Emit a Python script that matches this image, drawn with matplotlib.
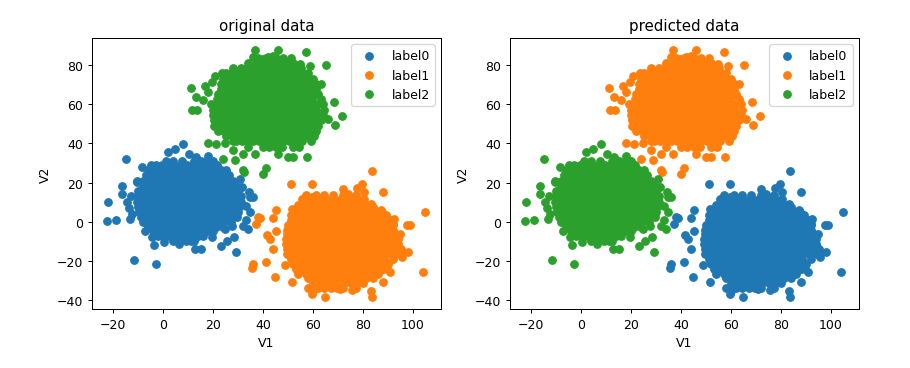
import numpy as np
import matplotlib
matplotlib.use("Agg")
import matplotlib.pyplot as plt

# points, the dense middle is written row by row as (y, [x...])
blob_a_rows = [
    (31, [1, 4, 7.5, 12.5, 15, 17.5, 20]),
    (29, [-5, -3, -0.5, 2, 4.5, 7, 9.5, 12, 14, 16.5, 19, 21.5]),
    (26.5, [-6, -3.5, -1, 1.5, 3.5, 6, 8.5, 11, 13.5, 15.5, 18, 20.5, 23, 25]),
    (24, [-7, -4.5, -2.5, 0, 2.5, 5, 7.5, 9.5, 12, 14.5, 17, 19.5, 21.5, 24, 26.5]),
    (21, [-8, -5.5, -3, -1, 1.5, 4, 6.5, 8.5, 11, 13.5, 16, 18.5, 20.5, 23, 25.5, 28]),
    (18, [-8, -6, -3.5, -1.5, 0.5, 3, 5.5, 8, 10, 12.5, 15, 17.5, 20, 22, 24.5, 27, 29]),
    (15.5, [-10, -7.5, -5, -3, -0.5, 2, 4.5, 7, 9, 11.5, 14, 16.5, 19, 21, 23.5, 26, 28.5, 30]),
    (13, [-10, -8.5, -6, -4, -1.5, 1, 3.5, 6, 8, 10.5, 13, 15.5, 18, 20, 22.5, 25, 27.5, 29.5, 31]),
    (10, [-10.5, -7.5, -5, -2.5, -0.5, 2, 4.5, 7, 9, 11.5, 14, 16.5, 19, 21, 23.5, 26, 28.5, 31]),
    (7.5, [-10, -8.5, -6, -3.5, -1.5, 1, 3.5, 6, 8, 10.5, 13, 15.5, 18, 20, 22.5, 25, 27.5, 30.5]),
    (5, [-9.5, -7, -4.5, -2.5, 0, 2.5, 5, 7, 9.5, 12, 14.5, 17, 19, 21.5, 24, 26.5, 28.5, 30]),
    (2.5, [-9, -7.5, -5.5, -3, -1, 1.5, 4, 6, 8.5, 11, 13.5, 16, 18, 20.5, 23, 25.5, 27.5, 29.5]),
    (0, [-8, -6, -4, -2, 0.5, 3, 5, 7.5, 10, 12.5, 15, 17, 19.5, 22, 24.5, 27]),
    (-2.5, [-6, -3, -0.5, 2, 4, 6.5, 9, 11.5, 14, 16, 18.5, 21, 24]),
    (-5, [-4, -1.5, 1, 3, 5.5, 8, 10.5, 13, 15, 17.5, 20]),
    (-7.5, [-2, 0, 2.5, 5, 7.5, 9.5, 12, 14, 16]),
    (-10, [4, 6.5, 9, 11, 12.5]),
]
blob_a_extra = [
    (-14.8, 32), (8.1, 39.7), (4.8, 37.1), (2.1, 35.8), (10.5, 34.6), (13.2, 32.9),
    (18.1, 33.7), (-8.5, 27.8), (-10.5, 20.9), (-21.9, 9.9), (-22.3, 0.2), (-18.8, 0.9),
    (-11.5, -19.6), (-2.9, -21.6), (29.1, -15.6), (23.1, -12.6), (25.5, -9.7), (28.4, -8),
    (12.8, -13.9), (15.1, -13.9), (6.5, -11.4), (-3.5, -11.9), (0.4, -10.2), (19.5, -7.7),
    (24.8, -3.7), (27.5, -2), (34.1, -3.7), (32.1, -2), (34.8, 5), (34.8, 12.6), (36, 12.6),
    (34.5, 15), (30.8, 21.8), (31.5, 17.7), (-16.5, 18.4), (-16.5, 14.1), (-10.3, 20.4),
    (-13.2, 1.4), (-12.5, 3.9), (-7.2, -4.6), (-4.5, -8), (-14.5, 10), (-13, 13), (-13.5, 7),
    (33, 8), (33, 1),
]

blob_b_rows = [
    (13.5, [57, 61, 64.5, 68, 72, 77]),
    (11, [56, 58, 60.5, 63, 65.5, 68, 70.5, 73, 75.5, 78, 80]),
    (8.5, [54, 56.5, 59, 61.5, 64, 66.5, 69, 71.5, 74, 76.5, 79, 81, 83]),
    (6, [52, 54.5, 57, 59.5, 62, 64.5, 67, 69.5, 72, 74.5, 77, 79.5, 82, 84.5, 87]),
    (3.5, [51, 53.5, 56, 58.5, 61, 63.5, 66, 68.5, 71, 73.5, 76, 78.5, 81, 83.5, 86, 89]),
    (1, [51, 52.5, 55, 57.5, 60, 62.5, 65, 67.5, 70, 72.5, 75, 77.5, 80, 82.5, 85, 87.5, 89.5, 91]),
    (-1.5, [50, 53, 55.5, 58, 60.5, 63, 65.5, 68, 70.5, 73, 75.5, 78, 80.5, 83, 85.5, 88, 90, 92]),
    (-4, [49.5, 52, 54.5, 57, 59.5, 62, 64.5, 67, 69.5, 72, 74.5, 77, 79.5, 82, 84.5, 87, 89.5, 92]),
    (-6.5, [49.5, 51, 53.5, 56, 58.5, 61, 63.5, 66, 68.5, 71, 73.5, 76, 78.5, 81, 83.5, 86, 88.5, 91, 93]),
    (-9, [49, 52, 54.5, 57, 59.5, 62, 64.5, 67, 69.5, 72, 74.5, 77, 79.5, 82, 84.5, 87, 89.5, 92, 94]),
    (-11.5, [49, 51, 53.5, 56, 58.5, 61, 63.5, 66, 68.5, 71, 73.5, 76, 78.5, 81, 83.5, 86, 88.5, 91, 94]),
    (-14, [49.5, 52, 54.5, 57, 59.5, 62, 64.5, 67, 69.5, 72, 74.5, 77, 79.5, 82, 84.5, 87, 89.5, 92, 95]),
    (-16.5, [49.5, 51, 53.5, 56, 58.5, 61, 63.5, 66, 68.5, 71, 73.5, 76, 78.5, 81, 83.5, 86, 88.5, 91, 94.5]),
    (-19, [51, 53.5, 56, 58.5, 61, 63.5, 66, 68.5, 71, 73.5, 76, 78.5, 81, 83.5, 86, 88.5, 92]),
    (-21.5, [52, 55, 57.5, 60, 62.5, 65, 67.5, 70, 72.5, 75, 77.5, 80, 82.5, 85, 87.5, 90]),
    (-24, [53, 56, 58.5, 61, 63.5, 66, 68.5, 71, 73.5, 76, 78.5, 81, 83.5, 86, 88]),
    (-26.5, [54, 57, 60, 62.5, 65, 67.5, 70, 72.5, 75, 77.5, 80, 82.5, 84.5, 86]),
    (-29, [58, 61, 63.5, 66, 68.5, 71, 73.5, 76, 78.5, 81, 84]),
    (-31.5, [60, 62.5, 65, 67.5, 70, 72.5, 75, 77.5, 80]),
    (-34, [58, 62, 64.5, 67, 69.5, 72, 77]),
]
blob_b_extra = [
    (51.1, 19.3), (59.7, 19.3), (83.7, 26), (72.1, 16.7), (74.1, 14.1), (75.1, 11.9),
    (77.5, 17.2), (79.7, 19.3), (80.5, 15), (88.1, 15), (104.8, 4.8), (104.1, -25.8),
    (97.5, -1.7), (98.8, -1.7), (92.5, 1.4), (92.1, -1.2), (94.8, -6.3), (96, -15.5),
    (97.9, -15.6), (90.8, -25.8), (89.5, -24), (88.1, -31), (83.2, -35.2), (83.7, -38.6),
    (64.8, -38.6), (59.5, -36.9), (60, -35.5), (75.5, -34.7), (70.8, -34.4), (51.7, -30.6),
    (44.7, -28.4), (41.2, -20.7), (48.8, -22.1), (43.9, -13.9), (42.8, -8.8), (41.5, -6.6),
    (45.2, -4.8), (44.1, 1.9), (45.1, 6), (38.8, 1.9), (55.5, 11.6), (56.1, 9), (59.5, 12.8),
    (51.5, 6.5), (38.1, 2.2), (37.1, -1.2), (36.1, -21.6), (35.5, -23.8), (83.2, 9), (84, 7.5),
    (87.5, 5), (80.4, 11.6), (94, -12), (95.5, -18),
]

blob_c_rows = [
    (83.5, [38, 41, 45, 48, 51]),
    (81, [34, 37, 39.5, 42, 44.5, 47, 49.5, 52]),
    (78.5, [28, 31, 33.5, 36, 38.5, 41, 43, 45.5, 48, 50.5, 53, 55]),
    (76, [25, 27, 29.5, 32, 34.5, 37, 39.5, 42, 44, 46.5, 49, 51.5, 54, 56, 58]),
    (73, [24, 26.5, 29, 31, 33.5, 36, 38.5, 41, 43, 45.5, 48, 50.5, 53, 55, 57.5, 60]),
    (70.5, [23, 25, 27.5, 30, 32.5, 35, 37, 39.5, 42, 44.5, 47, 49, 51.5, 54, 56.5, 59, 61]),
    (68, [23, 26, 28.5, 31, 33, 35.5, 38, 40.5, 43, 45, 47.5, 50, 52.5, 55, 57, 59.5, 61]),
    (65, [22, 24.5, 27, 29.5, 32, 34, 36.5, 39, 41.5, 44, 46, 48.5, 51, 53.5, 56, 58, 60.5, 62]),
    (62.5, [21.5, 23.5, 26, 28.5, 31, 33, 35.5, 38, 40.5, 43, 45, 47.5, 50, 52.5, 55, 57, 59.5, 63]),
    (60, [21, 24, 26.5, 29, 31.5, 34, 36, 38.5, 41, 43.5, 46, 48, 50.5, 53, 55.5, 58, 60, 62, 64]),
    (57, [20, 22.5, 25, 27.5, 30, 32, 34.5, 37, 39.5, 42, 44, 46.5, 49, 51.5, 54, 56, 58.5, 61, 64.5]),
    (54.5, [20, 23, 25.5, 28, 30.5, 33, 35, 37.5, 40, 42.5, 45, 47, 49.5, 52, 54.5, 57, 59, 61.5, 64]),
    (52, [20.5, 22, 24.5, 27, 29.5, 32, 34, 36.5, 39, 41.5, 44, 46, 48.5, 51, 53.5, 56, 58, 60.5, 63]),
    (49, [20.5, 23, 25.5, 28, 30.5, 33, 35, 37.5, 40, 42.5, 45, 47, 49.5, 52, 54.5, 57, 59, 62]),
    (46.5, [22, 24.5, 27, 29.5, 32, 34, 36.5, 39, 41.5, 44, 46, 48.5, 51, 53.5, 56, 58.5, 61]),
    (44, [25, 28, 30.5, 33, 35, 37.5, 40, 42.5, 45, 47, 49.5, 52, 54.5, 57, 60.5]),
    (41, [29, 31.5, 34, 36, 38.5, 41, 43.5, 46, 48, 50.5, 53, 55.5, 59]),
    (38, [40, 42.5, 45, 47.5, 52, 54.5]),
]
blob_c_extra = [
    (36.7, 87.7), (11.3, 68.4), (13.2, 63.5), (11.5, 57), (13.5, 57), (18.1, 40.2),
    (21.2, 39.7), (24.8, 40.2), (28.1, 36.6), (24.1, 32), (31.9, 34.6), (28.8, 31.7),
    (36.8, 34.6), (31.9, 26.6), (41.2, 27.4), (39.9, 24.4), (32.5, 25.2), (46, 34.6),
    (50, 33), (52, 33), (57.5, 33), (46.1, 87.7), (57.2, 86.8), (65.2, 80), (58.8, 79.5),
    (54.8, 80.5), (68.2, 61), (71.7, 53.8), (68.8, 49.4), (66, 52.4), (63.2, 70.3),
    (39.5, 83), (36, 84), (42, 84), (44, 84.6), (23.5, 75.8), (20.8, 74.6), (16.8, 69.5),
    (19.5, 71.3), (18, 66), (16, 62), (19, 60), (28, 41), (34, 38),
]

left_labels = ["label0", "label1", "label2"]
tick_x = [-20, 0, 20, 40, 60, 80, 100]
tick_y = [-40, -20, 0, 20, 40, 60, 80]


def to_points(rows, extra):
    xs = [x for y, row in rows for x in row] + [p[0] for p in extra]
    ys = [y for y, row in rows for x in row] + [p[1] for p in extra]
    return np.array(xs), np.array(ys)


blob_a = to_points(blob_a_rows, blob_a_extra)
blob_b = to_points(blob_b_rows, blob_b_extra)
blob_c = to_points(blob_c_rows, blob_c_extra)

W, H = 910, 369
fig = plt.figure(figsize=(W / 90, H / 90), dpi=90)


def panel(x0, x1, title, order):
    ax = fig.add_axes([x0 / W, 1 - 310 / H, (x1 - x0) / W, 271 / H])
    for blob, label in zip(order, left_labels):
        ax.scatter(blob[0], blob[1], label=label)
    ax.set_xlim(-28.4, 111.2)
    ax.set_ylim(-44.6, 93.8)
    ax.set_xticks(tick_x)
    ax.set_yticks(tick_y)
    ax.set_xlabel("V1")
    ax.set_ylabel("V2")
    ax.set_title(title)
    ax.legend(loc="upper right")


panel(92, 441, "original data", [blob_a, blob_b, blob_c])
panel(510, 859, "predicted data", [blob_b, blob_c, blob_a])

fig.savefig("out.png", dpi=90)
